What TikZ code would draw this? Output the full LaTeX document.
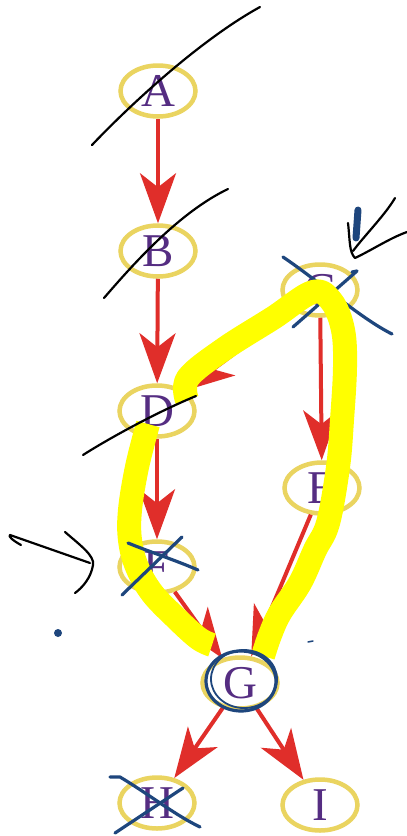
\documentclass[tikz,border=0pt]{standalone}
\usepackage{fontspec}
\setmainfont{Liberation Serif}
\usetikzlibrary{shapes.geometric,arrows.meta}
\definecolor{edgered}{RGB}{224,46,42}
\definecolor{ellyellow}{RGB}{234,212,96}
\definecolor{letterpurple}{RGB}{85,45,130}
\definecolor{hlyellow}{RGB}{255,255,0}
\definecolor{penblue}{RGB}{30,70,125}
\begin{document}
\begin{tikzpicture}[x=1pt,y=-1pt,
  vnode/.style={ellipse, draw=ellyellow, line width=4.5pt, minimum width=75pt,
    minimum height=51pt, inner sep=0pt, text=letterpurple,
    font=\fontsize{47}{47}\selectfont},
  redge/.style={draw=edgered, line width=4pt,
    -{Stealth[length=50pt,width=36pt,inset=14pt]}},
  hl/.style={draw=hlyellow, line width=24pt, line join=round},
  blackpen/.style={draw=black, line width=2.2pt, line cap=round, line join=round},
  bluepen/.style={draw=penblue, line width=3.2pt, line cap=round, line join=round}]
\useasboundingbox (0,0) rectangle (407,836);
\fill[white] (0,0) rectangle (407,836);

% graph nodes
\node[vnode] (A) at (158,91) {A};
\node[vnode] (B) at (158,251) {B};
\node[vnode] (C) at (320,290) {C};
\node[vnode] (D) at (157,411) {D};
\node[vnode] (E) at (322,488) {E};
\node[vnode] (F) at (157,567) {F};
\node[vnode] (G) at (240,683) {G};
\node[vnode] (H) at (157,803) {H};
\node[vnode] (I) at (320,805) {I};

% edges
\draw[redge] (A) -- (B);
\draw[redge] (B) -- (D);
\draw[redge] (C) -- (D);
\draw[redge] (C) -- (E);
\draw[redge] (D) -- (F);
\draw[redge] (F) -- (G);
\draw[redge] (E) -- (G);
\draw[redge] (G) -- (H);
\draw[redge] (G) -- (I);

% blue cross over C (below the highlight)
\draw[bluepen] (283,257) .. controls (320,282) and (360,318) .. (392,334);
\draw[bluepen] (352,272) -- (357,271) -- (293,327);

% yellow highlight
\draw[hl] plot[smooth, tension=0.6] coordinates {(187,400) (188,378) (224,349)
  (273,318) (313,292) (332,302) (343,330) (345,367) (342,420) (338,467)
  (328,523) (315,550) (300,583) (280,613) (270,635) (263,656)};
\draw[hl] plot[smooth, tension=0.6] coordinates {(148,424) (137,467) (130,510)
  (130,540) (137,567) (152,593) (175,617) (198,638) (212,645)};

% black pen strokes
\draw[blackpen] (92,145) .. controls (130,105) and (200,40) .. (260,7);
\draw[blackpen] (104,298) .. controls (135,262) and (180,212) .. (228,189);
\draw[blackpen] (83,455) .. controls (100,444) and (150,415) .. (196,396);
\draw[blackpen] (395,198) .. controls (385,215) and (365,235) .. (353,251);
\draw[blackpen] (348,223) .. controls (350,240) and (349,252) .. (355,258)
  .. controls (372,250) and (390,238) .. (407,232);
\draw[blackpen] (21,545) .. controls (12,540) and (8,536) .. (10,535)
  -- (90,563);
\draw[blackpen] (65,532) .. controls (80,545) and (95,556) .. (93,565)
  .. controls (91,578) and (82,588) .. (75,593);

% blue pen strokes
\draw[penblue, line width=7pt, line cap=round] (358,210) -- (356,238);
\draw[bluepen] (128,543) .. controls (150,552) and (175,560) .. (198,570);
\draw[bluepen] (182,537) -- (122,595);
\draw[bluepen] (241,681) ellipse [x radius=35, y radius=30];
\draw[penblue, line width=1.8pt] (244,679) ellipse [x radius=33, y radius=29];
\draw[bluepen] (110,777) -- (120,777) .. controls (150,795) and (175,815) .. (200,827);
\draw[bluepen] (183,788) -- (115,833);
\fill[penblue] (58,633) circle (4);
\draw[penblue, line width=1.5pt, line cap=round] (308,642) -- (313,641);
\end{tikzpicture}
\end{document}
